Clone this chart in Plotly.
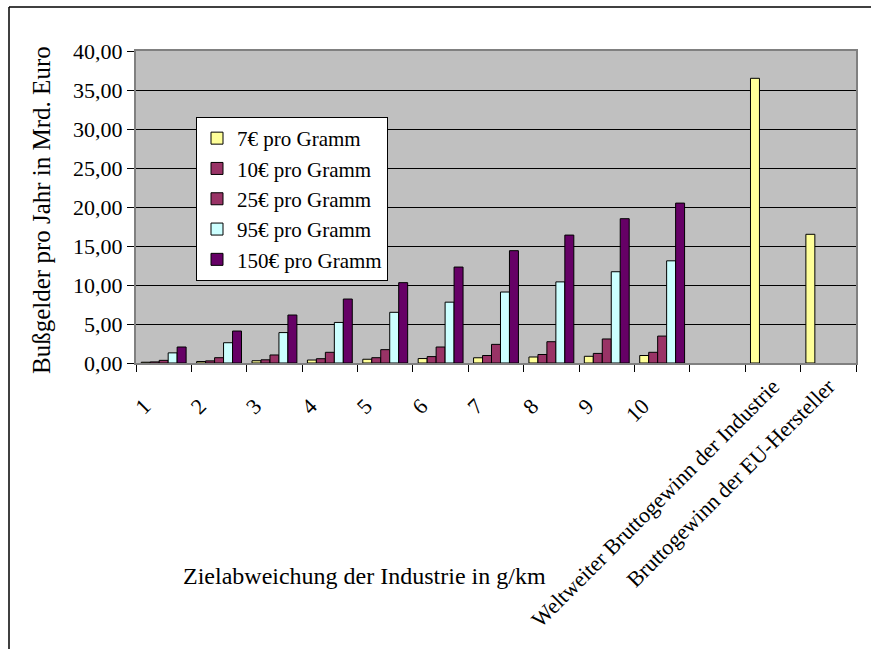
import plotly.graph_objects as go

categories = ["1", "2", "3", "4", "5", "6", "7", "8", "9", "10", " ",
              "Weltweiter Bruttogewinn der Industrie",
              "Bruttogewinn der EU-Hersteller"]

NB = "\u00a0" * 5
tick_labels = ["1" + NB, "2" + NB, "3" + NB, "4" + NB, "5" + NB, "6" + NB,
               "7" + NB, "8" + NB, "9" + NB, "10" + NB, "",
               "Weltweiter Bruttogewinn der Industrie",
               "Bruttogewinn der EU-Hersteller"]

series_names = ["7€ pro Gramm", "10€ pro Gramm", "25€ pro Gramm",
                "95€ pro Gramm", "150€ pro Gramm"]

vals_7 = [0.10, 0.19, 0.29, 0.38, 0.48, 0.57, 0.67, 0.77, 0.86, 0.96, None, 36.5, 16.5]
vals_10 = [0.14, 0.27, 0.41, 0.55, 0.68, 0.82, 0.96, 1.09, 1.23, 1.37, None, None, None]
vals_25 = [0.34, 0.68, 1.03, 1.37, 1.71, 2.05, 2.39, 2.73, 3.08, 3.45, None, None, None]
vals_95 = [1.30, 2.60, 3.90, 5.20, 6.50, 7.80, 9.10, 10.40, 11.70, 13.10, None, None, None]
vals_150 = [2.05, 4.10, 6.15, 8.20, 10.30, 12.30, 14.40, 16.40, 18.50, 20.50, None, None, None]

colors = ["#FFFF99", "#993366", "#993366", "#CCFFFF", "#660066"]

FONT = "Liberation Serif, Times New Roman, serif"

fig = go.Figure()
for i, (name, vals, col) in enumerate(zip(series_names, [vals_7, vals_10, vals_25, vals_95, vals_150], colors)):
    fig.add_trace(go.Bar(
        x=categories, y=vals, name=name, legendgroup=f"g{i}",
        marker=dict(color=col, line=dict(color="black", width=1)),
    ))

# plot area (page pixels): x 136..856, y 51..363
L, R, T, B = 136, 856, 51, 363
W, H = 871, 649
pw, ph = R - L, B - T

def px(xp):
    return (xp - L) / pw

def py(yp):
    return (B - yp) / ph

fig.update_layout(
    width=W, height=H,
    margin=dict(l=L, r=W - R, t=T, b=H - B, autoexpand=False),
    paper_bgcolor="white",
    plot_bgcolor="#C0C0C0",
    barmode="group",
    bargap=0.19,
    bargroupgap=0,
    separators=",.",
    font=dict(family=FONT, size=21, color="black"),
    showlegend=True,
    legend=dict(
        x=px(196), y=py(117), xanchor="left", yanchor="top",
        bgcolor="white", bordercolor="black", borderwidth=1,
        font=dict(family=FONT, size=21, color="black"),
        traceorder="normal", itemwidth=30, tracegroupgap=5,
    ),
    xaxis=dict(
        type="category",
        categoryorder="array", categoryarray=categories,
        tickmode="array", tickvals=categories, ticktext=tick_labels,
        tickangle=-45,
        ticks="outside", tickson="boundaries", ticklen=7, tickcolor="black",
        showline=True, linecolor="#808080", linewidth=2, mirror=True,
        showgrid=False,
        tickfont=dict(family=FONT, size=22, color="black"),
        automargin=False,
    ),
    yaxis=dict(
        range=[0, 40], dtick=5, tick0=0, tickformat=".2f",
        ticks="outside", ticklen=7, tickcolor="black",
        showline=True, linecolor="#808080", linewidth=2, mirror=True,
        showgrid=True, gridcolor="black", gridwidth=1,
        zeroline=False,
        tickfont=dict(family=FONT, size=22, color="black"),
        automargin=False,
    ),
    annotations=[
        dict(text="Bußgelder pro Jahr in Mrd. Euro", xref="paper", yref="paper",
             x=px(41), y=py(210), xanchor="center", yanchor="middle",
             textangle=-90, showarrow=False,
             font=dict(family=FONT, size=25, color="black")),
        dict(text="Zielabweichung der Industrie in g/km", xref="paper", yref="paper",
             x=px(364), y=py(576), xanchor="center", yanchor="middle",
             showarrow=False,
             font=dict(family=FONT, size=24, color="black")),
    ],
    shapes=[
        dict(type="line", xref="paper", yref="paper",
             x0=px(9), x1=px(880), y0=py(7), y1=py(7),
             line=dict(color="black", width=1.5)),
        dict(type="line", xref="paper", yref="paper",
             x0=px(9), x1=px(9), y0=py(7), y1=py(660),
             line=dict(color="black", width=1.5)),
    ],
)

fig.write_html("out.html", config={"displayModeBar": False},
               post_script="document.body.style.margin='0px';")
